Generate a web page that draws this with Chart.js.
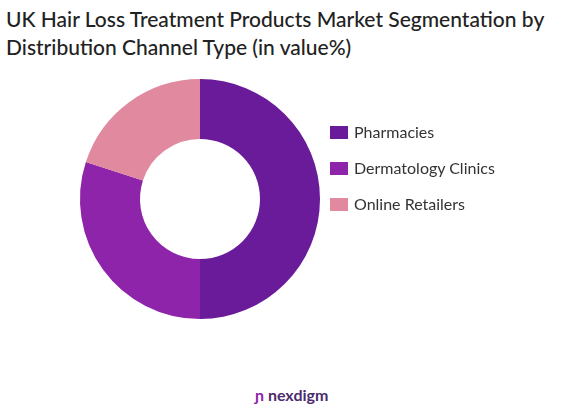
<!DOCTYPE html>
<html>
<head>
<meta charset="utf-8">
<script src="https://cdn.jsdelivr.net/npm/chart.js@4"></script>
<style>
  body { margin: 0; width: 566px; height: 418px; background: #fff; font-family: Lato, "Open Sans", sans-serif; position: relative; overflow: hidden; }
  #title { position: absolute; left: 6px; top: 5px; font-size: 21px; line-height: 28px; color: #222; font-weight: 500; }
  #wrap { position: absolute; left: 0; top: 79px; width: 400px; height: 240px; }
  #legend { position: absolute; left: 330px; top: 122px; font-size: 16px; color: #333; }
  #legend div { height: 36px; display: flex; align-items: flex-start; }
  #legend i { display: inline-block; width: 18px; height: 13px; margin: 4px 6px 0 0; }
  #logo { position: absolute; left: 255px; top: 385px; font-size: 16px; color: #4a2c6e; font-weight: bold; }
  #logo span { color: #8e24aa; }
</style>
</head>
<body>
<div id="title">UK Hair Loss Treatment Products Market Segmentation by<br>Distribution Channel Type (in value%)</div>
<div id="wrap"><canvas id="myChart"></canvas></div>
<div id="legend"></div>
<div id="logo"><span>ɲ</span> nexdigm</div>
<script>
const categories = ["Pharmacies", "Dermatology Clinics", "Online Retailers"];
const shares = [50, 30, 20];
const colours = ["#6a1b9a", "#8e24aa", "#e0899f"];

const legend = document.getElementById("legend");
categories.forEach((name, i) => {
    const row = document.createElement("div");
    row.innerHTML = `<i style="background:${colours[i]}"></i>${name}`;
    legend.appendChild(row);
});

new Chart(document.getElementById("myChart"), {
    type: "doughnut",
    data: {
        labels: categories,
        datasets: [{
            data: shares,
            backgroundColor: colours,
            borderWidth: 0
        }]
    },
    options: {
        responsive: true,
        maintainAspectRatio: false,
        animation: false,
        cutout: "50%",
        plugins: {
            tooltip: { enabled: false },
            legend: { display: false }
        }
    }
});
</script>
</body>
</html>
